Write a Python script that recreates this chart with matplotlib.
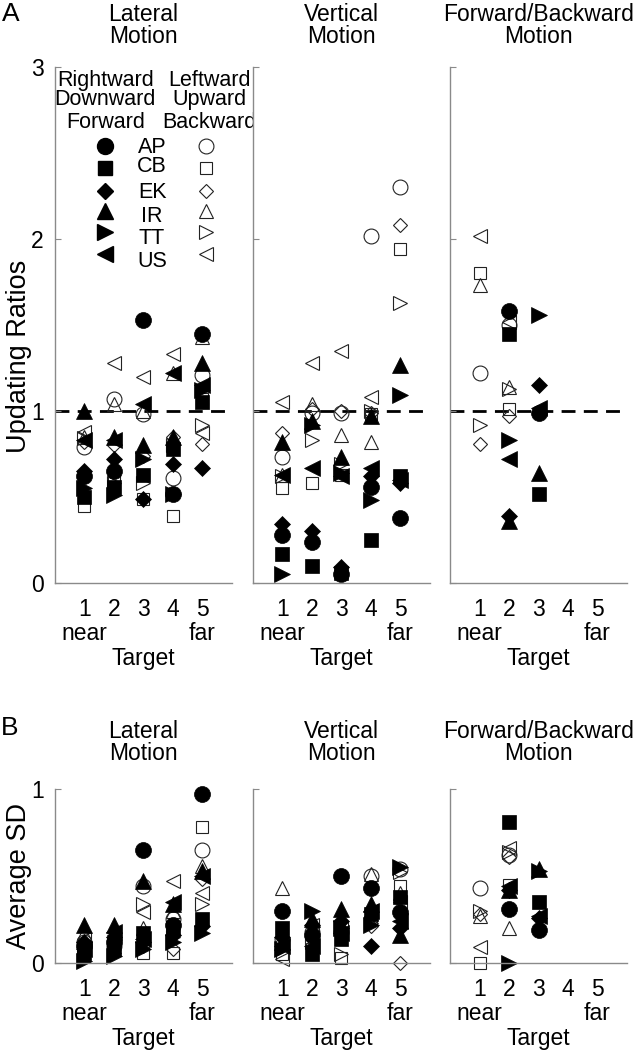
import matplotlib
matplotlib.use('Agg')
import matplotlib.pyplot as plt
import numpy as np

plt.rcParams['font.family'] = ['Liberation Sans', 'DejaVu Sans']

nan = np.nan

# Dane: osobno dla kazdego badanego (wiersze) i celu 1..5 (kolumny)
subjects = ['AP', 'CB', 'EK', 'IR', 'TT', 'US']
targets = [1, 2, 3, 4, 5]

# --- A: Updating Ratios ---
# Lateral: filled = Rightward, open = Leftward
lat_ratio_fill = [
    [0.62, 0.65, 1.53, 0.52, 1.45],
    [0.50, 0.56, 0.63, 0.78, 1.05],
    [0.65, 0.72, 0.49, 0.69, 0.67],
    [1.00, 0.85, 0.80, 0.85, 1.28],
    [0.55, 0.51, 0.72, 0.52, 1.12],
    [0.83, 0.83, 1.04, 1.22, 1.15],
]
lat_ratio_open = [
    [0.79, 1.07, 0.98, 0.61, 1.21],
    [0.45, 0.62, 0.49, 0.39, 1.07],
    [0.82, 0.80, 0.74, 0.85, 0.81],
    [0.85, 1.04, 1.00, 1.22, 1.43],
    [0.84, 0.58, 0.58, 0.80, 0.92],
    [0.88, 1.28, 1.20, 1.33, 0.87],
]
# Vertical: filled = Downward, open = Upward
vert_ratio_fill = [
    [0.28, 0.24, 0.05, 0.56, 0.38],
    [0.17, 0.10, 0.06, 0.25, 0.62],
    [0.34, 0.30, 0.09, 0.62, 0.58],
    [0.82, 0.94, 0.73, 0.97, 1.27],
    [0.05, 0.92, 0.64, 0.48, 1.09],
    [0.63, 0.67, 0.62, 0.67, 0.60],
]
vert_ratio_open = [
    [0.73, 0.99, 0.99, 2.02, 2.30],
    [0.55, 0.58, 0.63, 0.98, 1.94],
    [0.87, 1.01, 1.00, 0.99, 2.08],
    [0.63, 1.04, 0.86, 0.82, nan],
    [0.62, 0.83, 0.69, 1.00, 1.63],
    [1.05, 1.28, 1.35, 1.08, nan],
]
# Forward/Backward: filled = Forward, open = Backward
fb_ratio_fill = [
    [nan, 1.58, 0.99, nan, nan],
    [nan, 1.45, 0.52, nan, nan],
    [nan, 0.39, 1.15, nan, nan],
    [nan, 0.36, 0.64, nan, nan],
    [nan, 0.83, 1.56, nan, nan],
    [nan, 0.72, 1.02, nan, nan],
]
fb_ratio_open = [
    [1.22, 1.50, nan, nan, nan],
    [1.80, 1.01, nan, nan, nan],
    [0.81, 0.97, nan, nan, nan],
    [1.73, 1.14, nan, nan, nan],
    [0.92, 1.13, nan, nan, nan],
    [2.02, 1.52, nan, nan, nan],
]

# --- B: Average SD ---
lat_sd_fill = [
    [0.10, 0.12, 0.65, 0.22, 0.97],
    [0.06, 0.08, 0.17, 0.20, 0.25],
    [0.12, 0.15, 0.12, 0.16, 0.21],
    [0.22, 0.22, 0.47, 0.34, 0.53],
    [0.01, 0.04, 0.08, 0.12, 0.17],
    [0.08, 0.18, 0.14, 0.35, 0.50],
]
lat_sd_open = [
    [0.12, 0.10, 0.44, 0.25, 0.65],
    [0.04, 0.12, 0.06, 0.06, 0.78],
    [0.09, 0.14, 0.10, 0.08, 0.48],
    [0.17, 0.18, 0.20, 0.30, 0.56],
    [0.05, 0.06, 0.34, 0.15, 0.34],
    [0.14, 0.16, 0.29, 0.47, 0.40],
]
vert_sd_fill = [
    [0.30, 0.16, 0.50, 0.43, 0.29],
    [0.20, 0.05, 0.14, 0.28, 0.38],
    [0.15, 0.22, 0.24, 0.10, 0.20],
    [0.12, 0.25, 0.31, 0.34, 0.16],
    [0.08, 0.30, 0.20, 0.22, 0.55],
    [0.10, 0.10, 0.17, 0.30, 0.24],
]
vert_sd_open = [
    [0.14, 0.18, 0.18, 0.50, 0.54],
    [0.05, 0.08, 0.03, 0.25, 0.44],
    [0.12, 0.14, 0.16, 0.21, 0.00],
    [0.43, 0.20, 0.22, 0.51, 0.40],
    [0.08, 0.12, 0.05, 0.23, 0.52],
    [0.02, 0.22, 0.20, 0.30, 0.35],
]
fb_sd_fill = [
    [nan, 0.31, 0.19, nan, nan],
    [nan, 0.81, 0.35, nan, nan],
    [nan, 0.42, 0.26, nan, nan],
    [nan, 0.42, 0.54, nan, nan],
    [nan, 0.00, 0.53, nan, nan],
    [nan, 0.44, 0.27, nan, nan],
]
fb_sd_open = [
    [0.43, 0.62, nan, nan, nan],
    [0.00, 0.45, nan, nan, nan],
    [0.28, 0.61, nan, nan, nan],
    [0.27, 0.20, nan, nan, nan],
    [0.30, 0.64, nan, nan, nan],
    [0.09, 0.66, nan, nan, nan],
]

# Styl markerow dla badanych
markers = ['o', 's', 'D', '^', '>', '<']
sizes = [11.5, 10, 8, 11.2, 11.2, 11.2]
GRAY = '#8a8a8a'
FS = 16.5


def style_axes(ax, ymax, ylabels):
    for s in ['top', 'right']:
        ax.spines[s].set_visible(False)
    for s in ['left', 'bottom']:
        ax.spines[s].set_color(GRAY)
        ax.spines[s].set_linewidth(1.0)
    ax.set_xlim(0, 6)
    ax.set_ylim(0, ymax)
    ax.set_xticks(targets)
    ax.set_yticks(range(0, ymax + 1))
    if not ylabels:
        ax.set_yticklabels([])
    ax.tick_params(direction='in', length=4, color=GRAY, labelsize=FS, pad=8)
    ax.tick_params(axis='x', length=0, pad=11)
    for txt, xv in [('near', 1), ('far', 5)]:
        ax.annotate(txt, xy=(xv, 0), xycoords=('data', 'axes fraction'),
                    xytext=(0, -51), textcoords='offset pixels',
                    ha='center', va='center', fontsize=FS)
    ax.annotate('Target', xy=(0.5, 0), xycoords='axes fraction',
                xytext=(0, -76), textcoords='offset pixels',
                ha='center', va='center', fontsize=FS)


def draw_points(ax, fill, opn):
    for i in range(len(subjects)):
        ax.plot(targets, opn[i], linestyle='none', marker=markers[i],
                ms=sizes[i] - 0.8, mfc='none', mec='#222222', mew=0.8, clip_on=False)
    for i in range(len(subjects)):
        ax.plot(targets, fill[i], linestyle='none', marker=markers[i],
                ms=sizes[i], mfc='black', mec='black', mew=0.5, clip_on=False)


fig = plt.figure(figsize=(6.35, 10.5), dpi=100)

lefts = [0.0866, 0.3984, 0.7087]
width = 0.2787
titles = ['Lateral\nMotion', 'Vertical\nMotion', 'Forward/Backward\nMotion']

ratio_sets = [(lat_ratio_fill, lat_ratio_open),
              (vert_ratio_fill, vert_ratio_open),
              (fb_ratio_fill, fb_ratio_open)]
sd_sets = [(lat_sd_fill, lat_sd_open),
           (vert_sd_fill, vert_sd_open),
           (fb_sd_fill, fb_sd_open)]

# Panel A
axes_a = []
for k in range(3):
    ax = fig.add_axes([lefts[k], 0.4448, width, 0.4914])
    style_axes(ax, 3, k == 0)
    ax.axhline(1, color='black', lw=2, ls=(0, (5, 3)), zorder=1)
    draw_points(ax, *ratio_sets[k])
    ax.set_title(titles[k], fontsize=FS, linespacing=0.95, pad=17)
    axes_a.append(ax)

# Legenda w lewym panelu A
ax = axes_a[0]
hdr_y = [2.92, 2.81, 2.68]
for txt, yv in zip(['Rightward', 'Downward', 'Forward'], hdr_y):
    ax.text(1.71, yv, txt, ha='center', va='center', fontsize=15.5)
for txt, yv in zip(['Leftward', 'Upward', 'Backward'], hdr_y):
    ax.text(5.23, yv, txt, ha='center', va='center', fontsize=15.5, clip_on=False)
mk_y = [2.54, 2.41, 2.28, 2.16, 2.04, 1.91]
lb_y = [2.53, 2.42, 2.27, 2.13, 2.00, 1.87]
for i, name in enumerate(subjects):
    ax.plot(1.69, mk_y[i], marker=markers[i], ms=sizes[i], mfc='black', mec='black',
            linestyle='none')
    ax.plot(5.11, mk_y[i], marker=markers[i], ms=sizes[i] - 0.8, mfc='none',
            mec='#222222', mew=0.8, linestyle='none')
    ax.text(3.29, lb_y[i], name, ha='center', va='center', fontsize=15.5)

# Panel B
for k in range(3):
    ax = fig.add_axes([lefts[k], 0.0829, width, 0.1657])
    style_axes(ax, 1, k == 0)
    draw_points(ax, *sd_sets[k])
    ax.set_title(titles[k], fontsize=FS, linespacing=0.95, pad=21)

fig.text(19 / 635, 1 - 356 / 1050, 'Updating Ratios', rotation=90,
         ha='center', va='center', fontsize=19.5)
fig.text(19 / 635, 1 - 876 / 1050, 'Average SD', rotation=90,
         ha='center', va='center', fontsize=19.5)
fig.text(11 / 635, 1 - 14 / 1050, 'A', ha='center', va='center', fontsize=19)
fig.text(10 / 635, 1 - 728 / 1050, 'B', ha='center', va='center', fontsize=19)

fig.savefig('out.png', dpi=100)
plt.close(fig)
